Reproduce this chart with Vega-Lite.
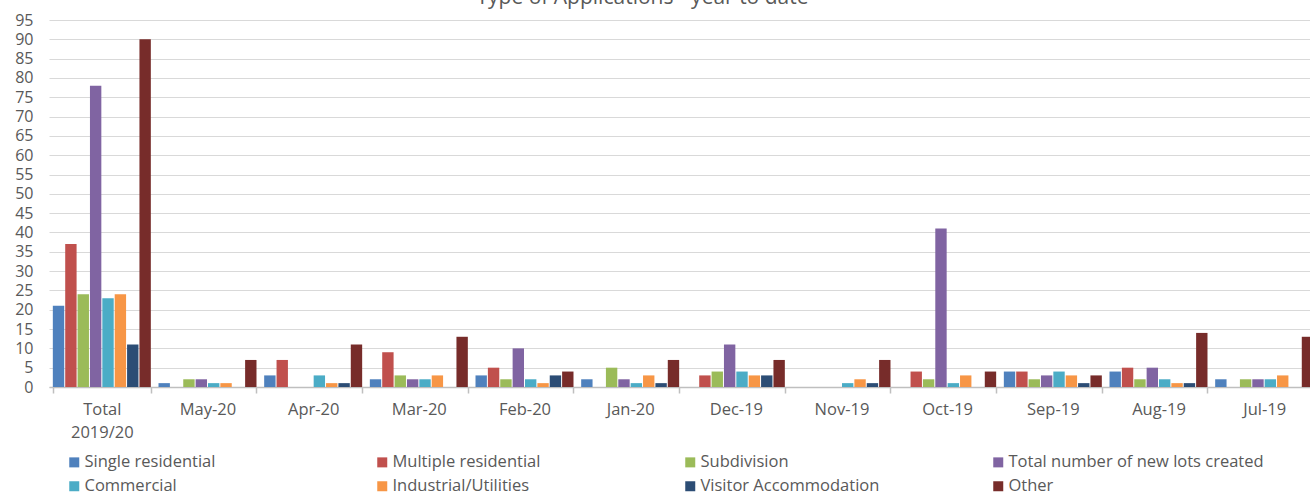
{
  "$schema": "https://vega.github.io/schema/vega-lite/v6.json",
  "autosize": {"type": "none"},
  "padding": {"left": 49, "top": 20, "right": 0, "bottom": 106},
  "width": 1261,
  "height": 367,
  "background": "white",
  "title": {
    "text": "Type of Applications - year to date",
    "font": "Open Sans",
    "fontSize": 21,
    "fontWeight": "normal",
    "color": "#595959",
    "anchor": "middle",
    "dx": -37,
    "baseline": "bottom",
    "offset": -17
  },
  "data": {
    "values": [
      {"month": "Total 2019/20", "Single residential": 21, "Multiple residential": 37, "Subdivision": 24, "Total number of new lots created": 78, "Commercial": 23, "Industrial/Utilities": 24, "Visitor Accommodation": 11, "Other": 90},
      {"month": "May-20", "Single residential": 1, "Multiple residential": 0, "Subdivision": 2, "Total number of new lots created": 2, "Commercial": 1, "Industrial/Utilities": 1, "Visitor Accommodation": 0, "Other": 7},
      {"month": "Apr-20", "Single residential": 3, "Multiple residential": 7, "Subdivision": 0, "Total number of new lots created": 0, "Commercial": 3, "Industrial/Utilities": 1, "Visitor Accommodation": 1, "Other": 11},
      {"month": "Mar-20", "Single residential": 2, "Multiple residential": 9, "Subdivision": 3, "Total number of new lots created": 2, "Commercial": 2, "Industrial/Utilities": 3, "Visitor Accommodation": 0, "Other": 13},
      {"month": "Feb-20", "Single residential": 3, "Multiple residential": 5, "Subdivision": 2, "Total number of new lots created": 10, "Commercial": 2, "Industrial/Utilities": 1, "Visitor Accommodation": 3, "Other": 4},
      {"month": "Jan-20", "Single residential": 2, "Multiple residential": 0, "Subdivision": 5, "Total number of new lots created": 2, "Commercial": 1, "Industrial/Utilities": 3, "Visitor Accommodation": 1, "Other": 7},
      {"month": "Dec-19", "Single residential": 0, "Multiple residential": 3, "Subdivision": 4, "Total number of new lots created": 11, "Commercial": 4, "Industrial/Utilities": 3, "Visitor Accommodation": 3, "Other": 7},
      {"month": "Nov-19", "Single residential": 0, "Multiple residential": 0, "Subdivision": 0, "Total number of new lots created": 0, "Commercial": 1, "Industrial/Utilities": 2, "Visitor Accommodation": 1, "Other": 7},
      {"month": "Oct-19", "Single residential": 0, "Multiple residential": 4, "Subdivision": 2, "Total number of new lots created": 41, "Commercial": 1, "Industrial/Utilities": 3, "Visitor Accommodation": 0, "Other": 4},
      {"month": "Sep-19", "Single residential": 4, "Multiple residential": 4, "Subdivision": 2, "Total number of new lots created": 3, "Commercial": 4, "Industrial/Utilities": 3, "Visitor Accommodation": 1, "Other": 3},
      {"month": "Aug-19", "Single residential": 4, "Multiple residential": 5, "Subdivision": 2, "Total number of new lots created": 5, "Commercial": 2, "Industrial/Utilities": 1, "Visitor Accommodation": 1, "Other": 14},
      {"month": "Jul-19", "Single residential": 2, "Multiple residential": 0, "Subdivision": 2, "Total number of new lots created": 2, "Commercial": 2, "Industrial/Utilities": 3, "Visitor Accommodation": 0, "Other": 13}
    ]
  },
  "transform": [
    {"fold": ["Single residential", "Multiple residential", "Subdivision", "Total number of new lots created", "Commercial", "Industrial/Utilities", "Visitor Accommodation", "Other"], "as": ["type", "value"]}
  ],
  "mark": {"type": "bar"},
  "encoding": {
    "x": {
      "field": "month",
      "type": "nominal",
      "sort": null,
      "scale": {"range": [0, 1268], "paddingInner": 0.0726, "paddingOuter": 0.0363},
      "axis": {
        "title": null,
        "labelAngle": 0,
        "labelExpr": "split(datum.label, ' ')",
        "labelFont": "Open Sans",
        "labelFontSize": 16.5,
        "labelColor": "#595959",
        "labelLineHeight": 23,
        "labelPadding": 8,
        "tickBand": "extent",
        "tickSize": 6,
        "tickColor": "#bfbfbf",
        "domainColor": "#bfbfbf",
        "domainWidth": 1.5,
        "tickWidth": 1.5,
        "grid": false
      }
    },
    "xOffset": {
      "field": "type",
      "type": "nominal",
      "sort": ["Single residential", "Multiple residential", "Subdivision", "Total number of new lots created", "Commercial", "Industrial/Utilities", "Visitor Accommodation", "Other"],
      "scale": {"paddingInner": 0.08, "paddingOuter": 0}
    },
    "y": {
      "field": "value",
      "type": "quantitative",
      "scale": {"domain": [0, 95], "nice": false},
      "axis": {
        "title": null,
        "values": [0, 5, 10, 15, 20, 25, 30, 35, 40, 45, 50, 55, 60, 65, 70, 75, 80, 85, 90, 95],
        "labelFont": "Open Sans",
        "labelFontSize": 16,
        "labelColor": "#595959",
        "labelPadding": 16,
        "ticks": false,
        "domain": false,
        "grid": true,
        "gridColor": "#d9d9d9",
        "gridWidth": 1.2
      }
    },
    "color": {
      "field": "type",
      "type": "nominal",
      "sort": ["Single residential", "Multiple residential", "Subdivision", "Total number of new lots created", "Commercial", "Industrial/Utilities", "Visitor Accommodation", "Other"],
      "scale": {
        "domain": ["Single residential", "Multiple residential", "Subdivision", "Total number of new lots created", "Commercial", "Industrial/Utilities", "Visitor Accommodation", "Other"],
        "range": ["#4F81BD", "#C0504D", "#9BBB59", "#8064A2", "#4BACC6", "#F79646", "#2C4D75", "#772C2A"]
      },
      "legend": {
        "title": null,
        "orient": "none",
        "legendX": 17,
        "legendY": 434,
        "direction": "horizontal",
        "columns": 4,
        "gridAlign": "all",
        "columnPadding": 34,
        "rowPadding": 7,
        "symbolType": "square",
        "symbolSize": 100,
        "symbolStrokeWidth": 0,
        "labelOffset": 2,
        "labelFont": "Open Sans",
        "labelFontSize": 16.5,
        "labelColor": "#595959",
        "labelLimit": 400
      }
    }
  },
  "config": {"view": {"stroke": null}}
}
